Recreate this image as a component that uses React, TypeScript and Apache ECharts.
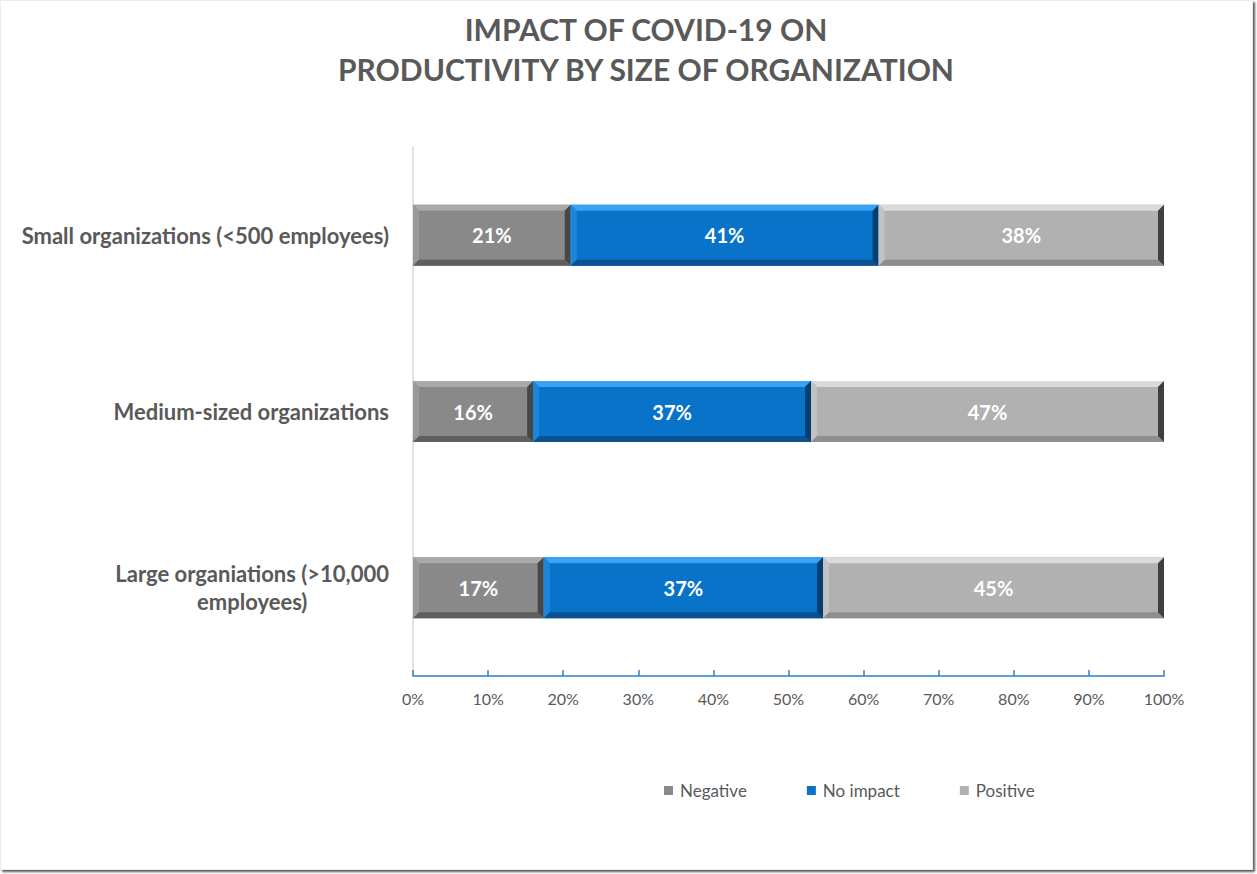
import React, { useEffect, useRef } from "react";
import * as echarts from "echarts";

const categories = [
  "Small organizations (<500 employees)",
  "Medium-sized organizations",
  "Large organiations (>10,000\nemployees)",
];
const seriesNames = ["Negative", "No impact", "Positive"];
const negative = [21, 16, 17.4];
const noImpact = [41, 37, 37.2];
const positive = [38, 47, 45.4];
const xTicks = [0, 10, 20, 30, 40, 50, 60, 70, 80, 90, 100];

const palettes = [
  { face: "#898989", top: "#a9a9a9", left: "#999999", bottom: "#5f5f5f", right: "#474747" },
  { face: "#0873c9", top: "#3aa2f2", left: "#1d86dc", bottom: "#0b5091", right: "#053e72" },
  { face: "#b1b1b1", top: "#dadada", left: "#c2c2c2", bottom: "#8e8e8e", right: "#3f3f3f" },
];

export default function App() {
  const ref = useRef<HTMLDivElement>(null);
  useEffect(() => {
    document.body.style.margin = "0";
    const chart = echarts.init(ref.current!, null, { renderer: "svg" });
    const all = [negative, noImpact, positive];
    const series = all.map((vals, si) => {
      const data = vals.map((v, ci) => {
        let start = 0;
        for (let k = 0; k < si; k++) start += all[k][ci];
        return [ci, start, start + v, v];
      });
      const pal = palettes[si];
      return {
        type: "custom",
        name: seriesNames[si],
        itemStyle: { color: pal.face },
        encode: { y: 0, x: [1, 2] },
        data,
        renderItem: (params: any, api: any) => {
          const ci = api.value(0);
          const s = api.value(1);
          const e = api.value(2);
          const v = api.value(3);
          const p0 = api.coord([s, ci]);
          const p1 = api.coord([e, ci]);
          const band = api.size([0, 1])[1];
          const h = band * 0.346;
          const x0 = p0[0];
          const x1 = p1[0];
          const y0 = p0[1] - h / 2;
          const y1 = p0[1] + h / 2;
          const b = 6;
          return {
            type: "group",
            children: [
              { type: "rect", shape: { x: x0, y: y0, width: x1 - x0, height: h }, style: { fill: pal.face } },
              { type: "polygon", shape: { points: [[x0, y0], [x1, y0], [x1 - b, y0 + b], [x0 + b, y0 + b]] }, style: { fill: pal.top } },
              { type: "polygon", shape: { points: [[x0, y0], [x0 + b, y0 + b], [x0 + b, y1 - b], [x0, y1]] }, style: { fill: pal.left } },
              { type: "polygon", shape: { points: [[x0, y1], [x0 + b, y1 - b], [x1 - b, y1 - b], [x1, y1]] }, style: { fill: pal.bottom } },
              { type: "polygon", shape: { points: [[x1, y0], [x1, y1], [x1 - b, y1 - b], [x1 - b, y0 + b]] }, style: { fill: pal.right } },
              {
                type: "text",
                x: (x0 + x1) / 2,
                y: p0[1],
                style: {
                  text: Math.round(v) + "%",
                  fill: "#ffffff",
                  font: "bold 20px Lato",
                  align: "center",
                  verticalAlign: "middle",
                },
              },
            ],
          };
        },
      };
    });

    chart.setOption({
      animation: false,
      textStyle: { fontFamily: "Lato" },
      graphic: [
        {
          type: "rect",
          z: -10,
          shape: { x: 0.5, y: 0.5, width: 1252, height: 869 },
          style: {
            fill: "#ffffff",
            stroke: "#ececec",
            lineWidth: 1,
            shadowBlur: 2,
            shadowOffsetX: 2,
            shadowOffsetY: 2,
            shadowColor: "rgba(0,0,0,0.65)",
          },
        },
        {
          type: "text",
          x: 646,
          y: 9,
          z: 10,
          style: {
            text: "IMPACT OF COVID-19 ON\nPRODUCTIVITY BY SIZE OF ORGANIZATION",
            font: "bold 30px Lato",
            fill: "#595959",
            align: "center",
            lineHeight: 40,
          },
        },
      ],
      legend: {
        data: seriesNames,
        left: 659,
        top: 777,
        icon: "rect",
        itemWidth: 9,
        itemHeight: 9,
        itemGap: 60,
        textStyle: { fontFamily: "Lato", fontSize: 17, color: "#595959", padding: [0, 0, 0, 2] },
      },
      grid: { left: 413, right: 93, top: 147, bottom: 198, containLabel: false },
      xAxis: {
        type: "value",
        min: xTicks[0],
        max: xTicks[xTicks.length - 1],
        interval: 10,
        axisLine: { show: true, lineStyle: { color: "#2e7fd0", width: 1.5 } },
        axisTick: { show: true, inside: true, length: 6, lineStyle: { color: "#2e7fd0", width: 1.5 } },
        splitLine: { show: false },
        axisLabel: {
          formatter: "{value}%",
          fontFamily: "Lato",
          fontSize: 16,
          color: "#595959",
          margin: 14,
        },
      },
      yAxis: {
        type: "category",
        inverse: true,
        data: categories,
        axisLine: { show: true, lineStyle: { color: "#d9d9d9", width: 1.5 } },
        axisTick: { show: false },
        axisLabel: {
          margin: 24,
          formatter: (val: string) =>
            val
              .split("\n")
              .map((l) => "{c|" + l + "}")
              .join("\n"),
          rich: {
            c: {
              align: "center",
              fontFamily: "Lato",
              fontWeight: "bold",
              fontSize: 22,
              color: "#595959",
              lineHeight: 28,
            },
          },
        },
      },
      series,
    });
    return () => chart.dispose();
  }, []);
  return <div ref={ref} style={{ width: 1257, height: 874 }} />;
}
